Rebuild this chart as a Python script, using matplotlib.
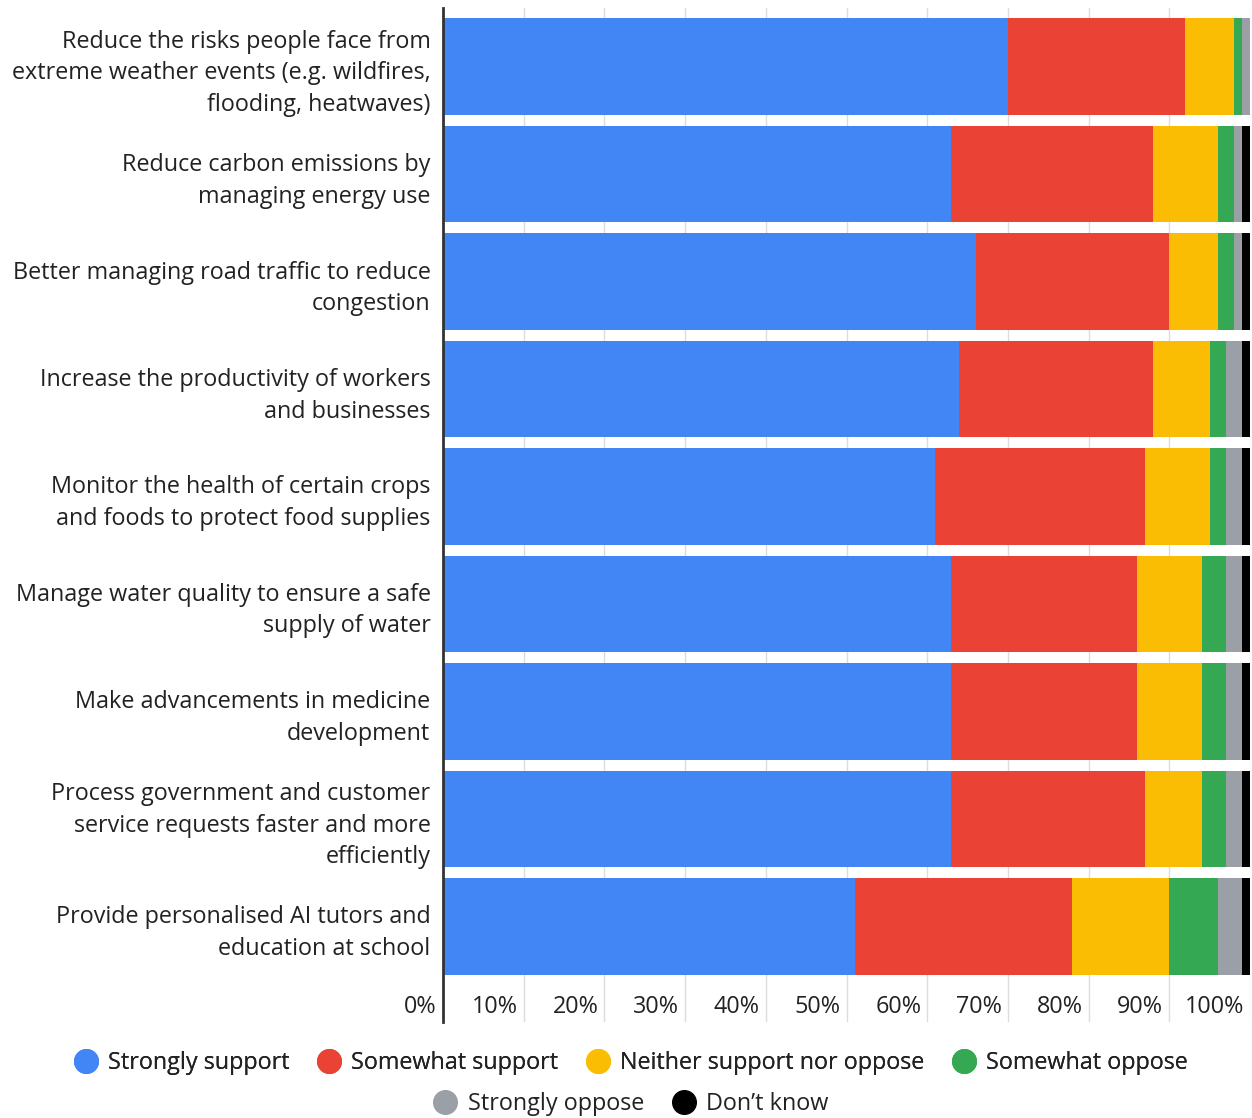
import matplotlib
matplotlib.use("Agg")
import matplotlib.pyplot as plt
from matplotlib.lines import Line2D
import numpy as np

plt.rcParams['font.family'] = ['Open Sans', 'DejaVu Sans']

categories = [
    "Reduce the risks people face from\nextreme weather events (e.g. wildfires,\nflooding, heatwaves)",
    "Reduce carbon emissions by\nmanaging energy use",
    "Better managing road traffic to reduce\ncongestion",
    "Increase the productivity of workers\nand businesses",
    "Monitor the health of certain crops\nand foods to protect food supplies",
    "Manage water quality to ensure a safe\nsupply of water",
    "Make advancements in medicine\ndevelopment",
    "Process government and customer\nservice requests faster and more\nefficiently",
    "Provide personalised AI tutors and\neducation at school",
]

series_names = ["Strongly support", "Somewhat support", "Neither support nor oppose",
                "Somewhat oppose", "Strongly oppose", "Don\u2019t know"]

strongly_support = [70, 63, 66, 64, 61, 63, 63, 63, 51]
somewhat_support = [22, 25, 24, 24, 26, 23, 23, 24, 27]
neither = [6, 8, 6, 7, 8, 8, 8, 7, 12]
somewhat_oppose = [1, 2, 2, 2, 2, 3, 3, 3, 6]
strongly_oppose = [1, 1, 1, 2, 2, 2, 2, 2, 3]
dont_know = [0, 1, 1, 1, 1, 1, 1, 1, 1]

tick_values = [0, 10, 20, 30, 40, 50, 60, 70, 80, 90, 100]
tick_labels = ["0%", "10%", "20%", "30%", "40%", "50%", "60%", "70%", "80%", "90%", "100%"]

colors = ["#4285F4", "#EA4335", "#FBBC04", "#34A853", "#9AA0A6", "#000000"]
text_color = "#222222"
fs = 16.8

series = [strongly_support, somewhat_support, neither, somewhat_oppose,
          strongly_oppose, dont_know]

fig = plt.figure(figsize=(12.52, 11.18), dpi=100)
ax = fig.add_axes([443 / 1252, 1 - 1022 / 1118, 807 / 1252, 1014 / 1118])

y = np.arange(len(categories))
left = np.zeros(len(categories))
for vals, col in zip(series, colors):
    vals = np.array(vals, dtype=float)
    ax.barh(y, vals, left=left, height=0.9, color=col, edgecolor='none', zorder=2)
    left += vals

ax.set_xlim(0, 100)
ax.set_ylim(8.89, -0.545)

# vertical gridlines, running down through the tick-label band
for t in tick_values[1:]:
    ax.axvline(t, color="#dcdcdc", linewidth=1.0, zorder=1)

for s in ["top", "right", "bottom"]:
    ax.spines[s].set_visible(False)
ax.spines["left"].set_color("#333333")
ax.spines["left"].set_linewidth(2.0)
ax.spines["left"].set_zorder(3)

ax.set_xticks([])
ax.set_yticks(y)
ax.set_yticklabels(categories, fontsize=fs, color=text_color, linespacing=1.42)
ax.tick_params(axis='y', length=0, pad=9)

for t, lab in zip(tick_values, tick_labels):
    ax.text(t - 0.75, 8.75, lab, ha='right', va='center', fontsize=fs,
            color=text_color, clip_on=False)

def handle(c):
    return Line2D([0], [0], marker='o', linestyle='none', markersize=17,
                  markerfacecolor=c, markeredgecolor=c)

leg1 = fig.legend([handle(c) for c in colors[:4]], series_names[:4],
                  loc='center', bbox_to_anchor=(0.503, 1 - 1063 / 1118), ncol=4,
                  frameon=False, fontsize=fs, handletextpad=0.35,
                  columnspacing=1.1, handlelength=1.2)
leg2 = fig.legend([handle(c) for c in colors[4:]], series_names[4:],
                  loc='center', bbox_to_anchor=(0.503, 1 - 1104 / 1118), ncol=2,
                  frameon=False, fontsize=fs, handletextpad=0.35,
                  columnspacing=1.1, handlelength=1.2)
for lg in (leg1, leg2):
    for txt in lg.get_texts():
        txt.set_color(text_color)
fig.add_artist(leg1)

fig.savefig("out.png", dpi=100, facecolor="white")
